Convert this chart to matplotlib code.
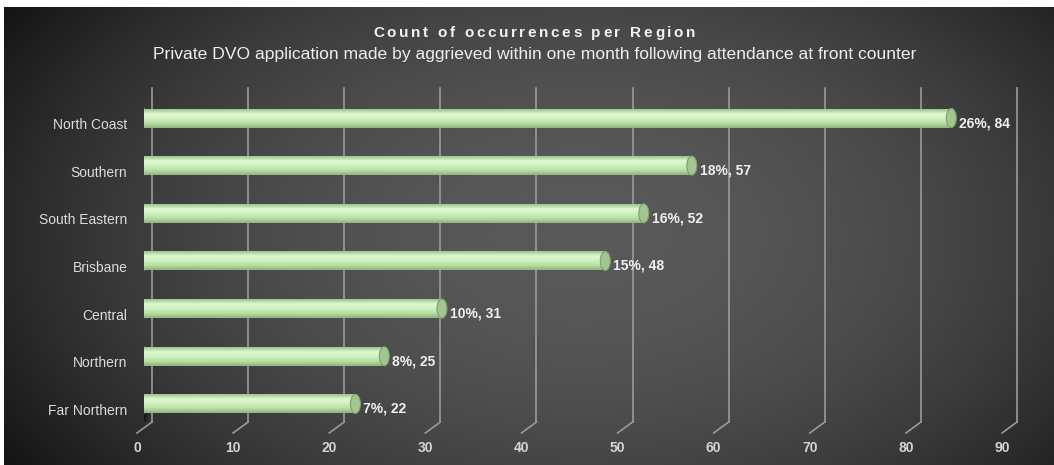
import numpy as np
import matplotlib
matplotlib.use("Agg")
import matplotlib.pyplot as plt
from matplotlib.patches import Ellipse
from matplotlib.colors import LinearSegmentedColormap

# Datos
regiones = ["North Coast", "Southern", "South Eastern", "Brisbane",
            "Central", "Northern", "Far Northern"]
conteos = [84, 57, 52, 48, 31, 25, 22]
porcentajes = [26, 18, 16, 15, 10, 8, 7]
ticks_x = [0, 10, 20, 30, 40, 50, 60, 70, 80, 90]

titulo = "Count of occurrences per Region"
subtitulo = "Private DVO application made by aggrieved within one month following attendance at front counter"

plt.rcParams['font.family'] = ['Liberation Sans', 'DejaVu Sans']

W, H = 1054, 465
fig = plt.figure(figsize=(W / 100, H / 100), dpi=100)
fig.patch.set_facecolor('white')

# Fondo con degradado radial
bg = fig.add_axes([4 / W, 0, 1 - 4 / W, (H - 7) / H])
xx, yy = np.meshgrid(np.linspace(0, 1, 400), np.linspace(0, 1, 200))
dx = (xx - 0.55) / 0.5
dy = (yy - 0.5) / 0.5
val = np.clip(0.35 - 0.16 * dx ** 2 - 0.08 * dy ** 2, 0.08, 1)
bg.imshow(np.dstack([val, val, val]), extent=(0, 1, 0, 1), aspect='auto', origin='lower')
bg.set_axis_off()

# Ejes principales (plano de las barras)
x0_px, x90_px = 144, 1009
top_px, bot_px = 88, 422
ax = fig.add_axes([x0_px / W, 1 - bot_px / H, (x90_px - x0_px) / W, (bot_px - top_px) / H])
ax.set_facecolor('none')
for s in ax.spines.values():
    s.set_visible(False)

xmax = 90
ymin, ymax = 6.38, -0.63
px_x = xmax / (x90_px - x0_px)           # unidades por pixel en x
px_y = (ymin - ymax) / (bot_px - top_px)  # unidades por pixel en y

y = np.arange(len(regiones))
alto = 19 * px_y

# Lineas de cuadricula con piso en perspectiva
for t in ticks_x:
    xb = t + 8 * px_x
    xf = t - 7 * px_x
    ax.plot([xb, xb], [ymax, ymin], color='#9a9a9a', lw=1.2, zorder=1, clip_on=False)
    ax.plot([xb, xf], [ymin, ymin + 11 * px_y], color='#9a9a9a', lw=1.2, zorder=1, clip_on=False)
    ax.text(xf, ymin + 26 * px_y, str(t), ha='center', va='center',
            color='#d4d4d4', fontsize=10, fontweight='bold')

# Sombra en el piso junto a la ultima barra
for k in range(6):
    ax.add_patch(Ellipse((-0.3, y[-1] + 0.15), (14 - 2 * k) * px_x, (40 - 5 * k) * px_y,
                         facecolor='black', edgecolor='none', alpha=0.18, zorder=2))

# Barras cilindricas
cmap = LinearSegmentedColormap.from_list('cil', ['#9cc289', '#dff9d2', '#d0f0c0', '#b9dfa6', '#8fb37c'])
grad = np.linspace(0, 1, 64).reshape(-1, 1)
barras = ax.barh(y, conteos, height=alto, color='#c4e8b2', zorder=3)
for b, v, yi in zip(barras, conteos, y):
    im = ax.imshow(grad, cmap=cmap, extent=(0, v, yi + alto / 2, yi - alto / 2),
                   aspect='auto', zorder=4, interpolation='bicubic')
    im.set_clip_path(b)
    ax.add_patch(Ellipse((0, yi), 10 * px_x, alto, facecolor='#c8ecb6', edgecolor='none', zorder=2.5))
    ax.add_patch(Ellipse((v, yi), 10 * px_x, alto, facecolor='#a3c690',
                         edgecolor='#7f9f6e', lw=0.8, zorder=5))

for v, p, yi in zip(conteos, porcentajes, y):
    ax.text(v + 8 * px_x, yi + 5 * px_y, f"{p}%, {v}", ha='left', va='center',
            color='#f0f0f0', fontsize=10, fontweight='bold', zorder=6)

ax.set_xlim(0, xmax)
ax.set_ylim(ymin, ymax)
ax.set_xticks([])
ax.set_yticks(y)
ax.set_yticklabels(regiones, color='#dcdcdc', fontsize=10)
ax.tick_params(axis='y', length=0, pad=12)
for lbl in ax.get_yticklabels():
    lbl.set_verticalalignment('top')

# Titulo con espaciado entre letras
renderer = fig.canvas.get_renderer()
tam_titulo = 11
extra = 2.6
anchos = []
for ch in titulo:
    t = fig.text(0, 0, ch if ch != ' ' else 'n', fontsize=tam_titulo, fontweight='bold')
    w = t.get_window_extent(renderer).width
    if ch == ' ':
        w = w * 0.5
    anchos.append(w)
    t.remove()
total = sum(anchos) + extra * (len(titulo) - 1)
xpos = 534 - total / 2
for ch, w in zip(titulo, anchos):
    if ch != ' ':
        fig.text(xpos / W, 1 - 33 / H, ch, ha='left', va='center',
                 color='#f2f2f2', fontsize=tam_titulo, fontweight='bold')
    xpos += w + extra

fig.text(535 / W, 1 - 54 / H, subtitulo, ha='center', va='center', color='#eeeeee', fontsize=12.6)

fig.savefig('out.png', dpi=100)
